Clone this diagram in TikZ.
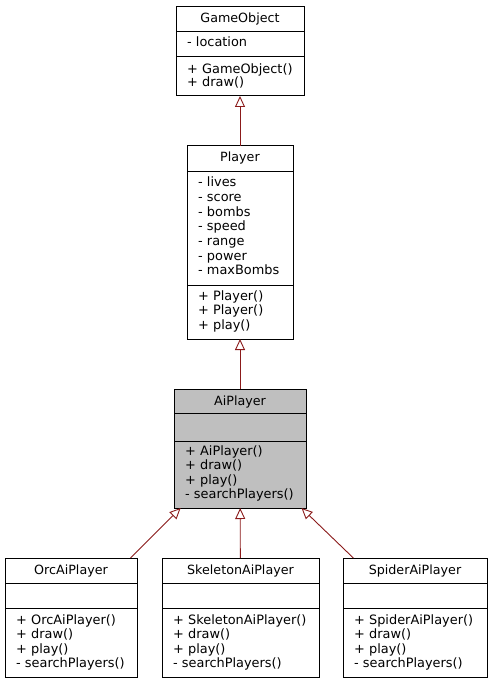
\documentclass[tikz,border=0pt]{standalone}
\usepackage{fontspec}
\setmainfont{DejaVu Sans}
\usetikzlibrary{arrows.meta}
\definecolor{edgered}{RGB}{139,26,26}
\definecolor{hilite}{RGB}{191,191,191}
\begin{document}
\begin{tikzpicture}[x=1pt,y=-1pt,
  cls/.style={draw=black, line width=1pt, rectangle, inner sep=0pt, outer sep=0pt},
  divider/.style={draw=black, line width=1pt},
  txt/.style={anchor=base west, inner sep=0pt, font=\fontsize{12.9}{14.6}\selectfont},
  ttl/.style={anchor=base, inner sep=0pt, font=\fontsize{12.7}{14.6}\selectfont},
  inh/.style={draw=edgered, line width=0.9pt, -{Triangle[open, length=11pt, width=10pt]}},
]
\useasboundingbox[fill=white] (0,0) rectangle (492,684);

% GameObject
\node[cls, fill=white, minimum width=128pt, minimum height=89pt] (gameobject) at (240,51.5) {};
\draw[divider] (176,32) -- (304,32);
\draw[divider] (176,57) -- (304,57);
\node[ttl] (gameobject-t) at (240,22.5) {GameObject};
\node[txt] (gameobject-a0) at (187,47) {- location};
\foreach \t [count=\i from 0] in {+ GameObject(), + draw()}
  \node[txt] (gameobject-m\i) at (187,73.3+12.8*\i) {\t};

% Player
\node[cls, fill=white, minimum width=106pt, minimum height=193pt] (player) at (240,242.5) {};
\draw[divider] (187,172) -- (293,172);
\draw[divider] (187,285) -- (293,285);
\node[ttl] (player-t) at (240,161.7) {Player};
\foreach \t [count=\i from 0] in {- lives, - score, - bombs, - speed, - range, - power, - maxBombs}
  \node[txt] (player-a\i) at (198,187+14.6*\i) {\t};
\foreach \t [count=\i from 0] in {+ Player(), + Player(), + play()}
  \node[txt] (player-m\i) at (198,300.5+14.4*\i) {\t};

% AiPlayer
\node[cls, fill=hilite, minimum width=132pt, minimum height=119pt] (aiplayer) at (240,448.5) {};
\draw[divider] (174,413) -- (306,413);
\draw[divider] (174,441) -- (306,441);
\node[ttl] (aiplayer-t) at (240,405) {AiPlayer};
\foreach \t [count=\i from 0] in {+ AiPlayer(), + draw(), + play(), - searchPlayers()}
  \node[txt] (aiplayer-m\i) at (185,455.5+14.3*\i) {\t};

% OrcAiPlayer
\node[cls, fill=white, minimum width=132pt, minimum height=119pt] (orc) at (71,617.5) {};
\draw[divider] (5,583) -- (137,583);
\draw[divider] (5,608) -- (137,608);
\node[ttl] (orc-t) at (71,574.5) {OrcAiPlayer};
\foreach \t [count=\i from 0] in {+ OrcAiPlayer(), + draw(), + play(), - searchPlayers()}
  \node[txt] (orc-m\i) at (16,624.5+14.3*\i) {\t};

% SkeletonAiPlayer
\node[cls, fill=white, minimum width=157pt, minimum height=119pt] (skeleton) at (240.5,617.5) {};
\draw[divider] (162,583) -- (319,583);
\draw[divider] (162,608) -- (319,608);
\node[ttl] (skeleton-t) at (240.5,574.5) {SkeletonAiPlayer};
\foreach \t [count=\i from 0] in {+ SkeletonAiPlayer(), + draw(), + play(), - searchPlayers()}
  \node[txt] (skeleton-m\i) at (173,624.5+14.3*\i) {\t};

% SpiderAiPlayer
\node[cls, fill=white, minimum width=144pt, minimum height=119pt] (spider) at (415,617.5) {};
\draw[divider] (343,583) -- (487,583);
\draw[divider] (343,608) -- (487,608);
\node[ttl] (spider-t) at (415,574.5) {SpiderAiPlayer};
\foreach \t [count=\i from 0] in {+ SpiderAiPlayer(), + draw(), + play(), - searchPlayers()}
  \node[txt] (spider-m\i) at (354,624.5+14.3*\i) {\t};

% inheritance
\draw[inh] (player) -- (gameobject);
\draw[inh] (aiplayer) -- (player);
\draw[inh] (orc) -- (aiplayer);
\draw[inh] (skeleton) -- (aiplayer);
\draw[inh] (spider) -- (aiplayer);
\end{tikzpicture}
\end{document}
